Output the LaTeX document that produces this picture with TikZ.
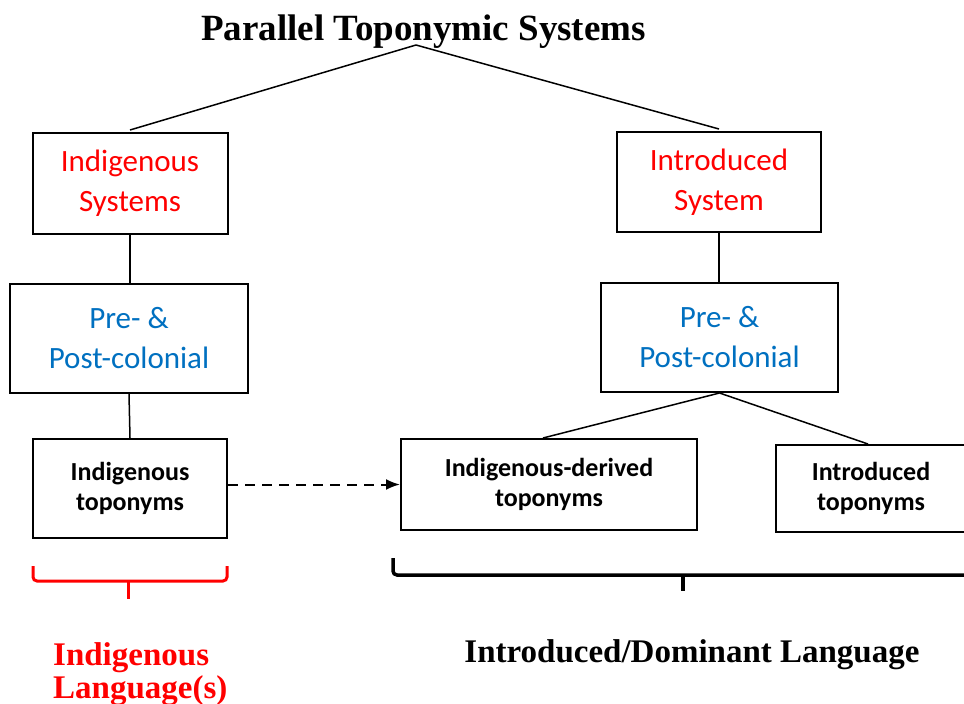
\documentclass[tikz,border=0pt]{standalone}
\usepackage{fontspec}
\setmainfont{Liberation Serif}
\newfontfamily\boxfont{Carlito}
\usepackage{tikz}
\usetikzlibrary{positioning}
\usetikzlibrary{arrows.meta}

\definecolor{indred}{RGB}{255,0,0}
\definecolor{colblue}{RGB}{0,112,192}

\tikzset{
  sysbox/.style={draw, line width=2pt, inner sep=0pt, align=center,
    font=\boxfont\fontsize{31}{40}\selectfont},
  topbox/.style={draw, line width=2pt, inner sep=0pt, align=center,
    font=\boxfont\bfseries\fontsize{26}{30}\selectfont},
  link/.style={line width=1.5pt},
  bracket/.style={line width=3pt, rounded corners=4pt},
  langlabel/.style={inner sep=0pt, font=\bfseries\fontsize{33}{33}\selectfont},
}

\begin{document}
\begin{tikzpicture}[x=1pt,y=-1pt]
        \clip (0,0) rectangle (964,704);
        % title and the two systems
        \node[langlabel, font=\bfseries\fontsize{37}{40}\selectfont, anchor=base] (title) at (423.5,40) {Parallel Toponymic Systems};
        \coordinate (apex) at (416,45);
        \node[sysbox, text=indred, minimum width=195pt, minimum height=101pt] (sysInd) at (130,183.5) {Indigenous\\Systems};
        \node[sysbox, text=indred, minimum width=204pt, minimum height=100pt] (sysIntro) at (719,182) {Introduced\\System};
        \node[sysbox, text=colblue, minimum width=238pt, minimum height=109pt] (colInd) at (129,338.5) {Pre- \&\\Post-colonial};
        \node[sysbox, text=colblue, minimum width=237pt, minimum height=109pt] (colIntro) at (719.5,337.5) {Pre- \&\\Post-colonial};
        % toponym boxes
        \node[topbox, minimum width=194pt, minimum height=99pt] (topInd) at (130,488.5) {Indigenous\\toponyms};
        \node[topbox, minimum width=296pt, minimum height=91pt] (topDer) at (549,484.5) {Indigenous-derived\\toponyms};
        \node[topbox, minimum width=190pt, minimum height=87pt] (topIntro) at (871,488.5) {Introduced\\toponyms};
        % connectors
        \draw[link] (apex) -- ([yshift=2pt]sysInd.north);
        \draw[link] (apex) -- ([yshift=2pt]sysIntro.north);
        \draw[link] (sysInd.south) -- (sysInd.south |- colInd.north);
        \draw[link] (sysIntro.south) -- (sysIntro.south |- colIntro.north);
        \draw[link] (colInd.south) -- (topInd.north);
        \draw[link] (colIntro.south) -- ([xshift=-6pt]topDer.north);
        \draw[link] (colIntro.south) -- ([xshift=-3pt]topIntro.north);
        \draw[line width=2pt, dash pattern=on 10pt off 7pt, -{Latex[length=14pt,width=11pt]}] (topInd.east |- topDer.west) -- (topDer.west);
        % brackets
        \draw[bracket, indred] (33,566) -- (33,581) -- (227,581) -- (227,566);
        \draw[line width=3pt, indred] (128,581) -- (128,599);
        \draw[bracket, line width=3.5pt] (393,558) -- (393,575) -- (973,575);
        \draw[line width=3.5pt] (683,575) -- (683,591);
        % language labels
        \node[langlabel, text=indred, align=left, anchor=north west] (langInd) at (53,642) {Indigenous\\Language(s)};
        \node[langlabel, anchor=base] (langIntro) at (692,662) {Introduced/Dominant Language};
\end{tikzpicture}
\end{document}
